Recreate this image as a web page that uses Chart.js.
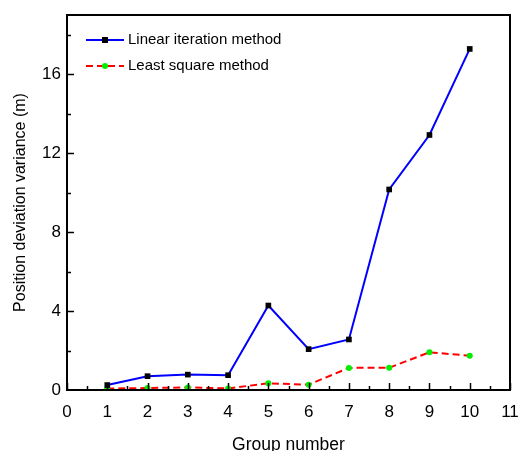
<!DOCTYPE html>
<html>
<head>
<meta charset="utf-8">
<script src="https://cdn.jsdelivr.net/npm/chart.js@4.4.1/dist/chart.umd.min.js"></script>
<style>
  html, body { margin: 0; padding: 0; background: #fff; }
  #wrap { width: 518px; height: 451px; }
</style>
</head>
<body>
<div id="wrap"><canvas id="chart"></canvas></div>
<script>
const groups = [1, 2, 3, 4, 5, 6, 7, 8, 9, 10];
const linearIteration = [0.25, 0.70, 0.78, 0.75, 4.28, 2.07, 2.56, 10.16, 12.92, 17.28];
const leastSquare = [0.07, 0.10, 0.13, 0.08, 0.34, 0.27, 1.12, 1.13, 1.91, 1.74];
const seriesNames = ['Linear iteration method', 'Least square method'];
const yLabelTicks = [0, 4, 8, 12, 16];

const FONT = '"Liberation Sans", Arial, sans-serif';

// frame, inward ticks and the in-plot legend
const framePlugin = {
  id: 'frame',
  afterDatasetsDraw(chart) {
    const { ctx, chartArea: a, scales: { x, y } } = chart;
    ctx.save();
    ctx.strokeStyle = '#000';
    ctx.lineWidth = 2;
    ctx.strokeRect(a.left, a.top, a.right - a.left, a.bottom - a.top);

    ctx.lineWidth = 1.5;
    ctx.beginPath();
    for (let v = 0; v <= 11; v += 0.5) {
      const px = Math.round(x.getPixelForValue(v)) + 0.5;
      const len = Number.isInteger(v) ? 7 : 4;
      ctx.moveTo(px, a.bottom);
      ctx.lineTo(px, a.bottom - len);
    }
    for (let v = 2; v <= 18; v += 2) {
      const py = Math.round(y.getPixelForValue(v)) + 0.5;
      const len = v % 4 === 0 ? 7 : 4;
      ctx.moveTo(a.left, py);
      ctx.lineTo(a.left + len, py);
    }
    ctx.stroke();

    // legend
    const rows = [40, 66];
    chart.data.datasets.forEach((ds, i) => {
      const ly = rows[i];
      ctx.strokeStyle = ds.borderColor;
      ctx.lineWidth = 2;
      ctx.setLineDash(ds.borderDash || []);
      ctx.beginPath();
      ctx.moveTo(86, ly);
      ctx.lineTo(124, ly);
      ctx.stroke();
      ctx.setLineDash([]);
      ctx.fillStyle = ds.pointBackgroundColor;
      if (ds.pointStyle === 'rect') {
        ctx.fillRect(102, ly - 3, 6, 6);
      } else {
        ctx.beginPath();
        ctx.arc(105, ly, 3, 0, Math.PI * 2);
        ctx.fill();
      }
      ctx.fillStyle = '#000';
      ctx.font = '15px ' + FONT;
      ctx.textBaseline = 'middle';
      ctx.fillText(ds.label, 128, ly);
    });
    ctx.restore();
  }
};

new Chart(document.getElementById('chart'), {
  type: 'line',
  data: {
    datasets: [
      {
        label: seriesNames[0],
        data: groups.map((g, i) => ({ x: g, y: linearIteration[i] })),
        borderColor: '#0000ff',
        borderWidth: 2,
        pointStyle: 'rect',
        pointRadius: 4,
        pointBackgroundColor: '#000',
        pointBorderColor: '#000',
        pointBorderWidth: 0,
        tension: 0
      },
      {
        label: seriesNames[1],
        data: groups.map((g, i) => ({ x: g, y: leastSquare[i] })),
        borderColor: '#ff0000',
        borderWidth: 2,
        borderDash: [7, 4],
        pointStyle: 'circle',
        pointRadius: 3,
        pointBackgroundColor: '#00ee00',
        pointBorderColor: '#00ee00',
        pointBorderWidth: 0,
        tension: 0
      }
    ]
  },
  options: {
    responsive: true,
    maintainAspectRatio: false,
    animation: false,
    layout: { padding: { left: 0, right: 8, top: 15, bottom: 0 } },
    plugins: { legend: { display: false }, tooltip: { enabled: false } },
    scales: {
      x: {
        type: 'linear',
        min: 0,
        max: 11,
        afterFit: s => { s.height = 61; s.paddingLeft = 0; s.paddingRight = 0; },
        grid: { display: false, drawTicks: false },
        border: { display: false },
        ticks: { stepSize: 1, padding: 12, color: '#000', font: { family: FONT, size: 17 } },
        title: {
          display: true,
          text: 'Group number',
          color: '#000',
          padding: 0,
          font: { family: FONT, size: 17.5, lineHeight: 0.7 }
        }
      },
      y: {
        min: 0,
        max: 19,
        afterFit: s => { s.width = 67; s.paddingTop = 0; s.paddingBottom = 0; },
        grid: { display: false, drawTicks: false },
        border: { display: false },
        ticks: {
          stepSize: 2,
          padding: 6,
          color: '#000',
          font: { family: FONT, size: 17 },
          callback: v => yLabelTicks.includes(v) ? String(v) : ''
        },
        title: {
          display: true,
          text: 'Position deviation variance (m)',
          color: '#000',
          padding: { top: 13, bottom: 0 },
          font: { family: FONT, size: 16, lineHeight: 1 }
        }
      }
    }
  },
  plugins: [framePlugin]
});
</script>
</body>
</html>
